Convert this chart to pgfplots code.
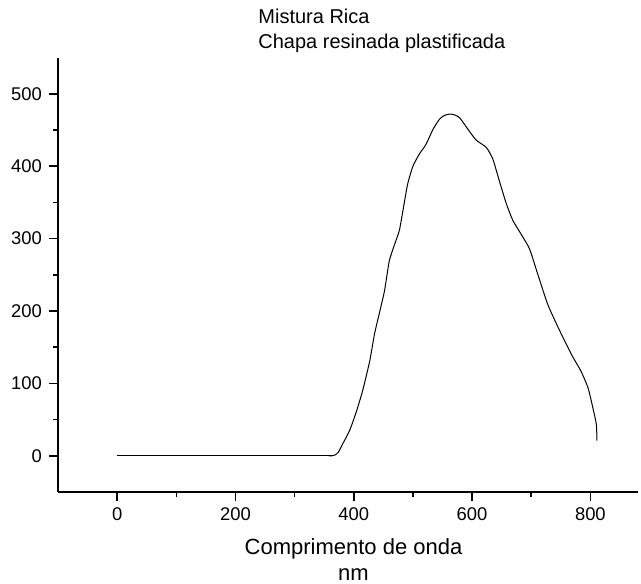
\documentclass[border=0pt]{standalone}
\usepackage{fontspec}
\setmainfont{Liberation Sans}
\usepackage{pgfplots}
\pgfplotsset{compat=1.18}

\begin{document}
\begin{tikzpicture}
  \begin{axis}[
      scale only axis,
      width=289.85pt,
      height=217.2pt,
      xmin=-100, xmax=880,
      ymin=-50, ymax=550,
      axis x line=bottom,
      axis y line=left,
      axis line style={-, line width=0.75pt},
      tick align=outside,
      tick style={black, line width=0.75pt},
      major tick length=4.5pt,
      minor tick length=2.5pt,
      xtick={0,200,400,600,800},
      ytick={0,100,200,300,400,500},
      minor x tick num=1,
      minor y tick num=1,
      ticklabel style={font=\fontsize{9.2}{11}\selectfont},
      /pgf/number format/assume math mode=true,
      clip=false,
    ]
    % flat baseline
    \addplot[black, line width=0.5pt] coordinates {(0,0) (363,0)};
    % emission band
    \addplot[black, line width=0.5pt, smooth, tension=0.35] coordinates {
        (358,0) (363,0) (368,1) (374,5) (381,16) (393,35) (404,60) (415,90)
        (427,131) (435,168) (443,196) (452,228) (460,269) (469,292)
        (477,311) (483,338) (491,375) (500,400) (511,417) (522,430)
        (534,451) (545,465) (553,470) (562,472) (570,471) (579,467)
        (593,451) (607,436) (624,426) (635,410) (646,380) (658,348)
        (669,325) (683,306) (697,286) (711,251) (728,209) (748,173)
        (768,140) (784,117) (796,94) (804,67) (810,44) (811,25) (811,21)
      };
  \end{axis}
  \node[anchor=base west, inner sep=0, font=\fontsize{10}{12}\selectfont]
    at ([shift={(100pt,234pt)}]current axis.south west) {Mistura Rica};
  \node[anchor=base west, inner sep=0, font=\fontsize{10}{12}\selectfont]
    at ([shift={(100pt,221.75pt)}]current axis.south west) {Chapa resinada plastificada};
  \node[anchor=base, inner sep=0, font=\fontsize{11}{13}\selectfont]
    at ([shift={(147.75pt,-31pt)}]current axis.south west) {Comprimento de onda};
  \node[anchor=base, inner sep=0, font=\fontsize{11}{13}\selectfont]
    at ([shift={(147.75pt,-44pt)}]current axis.south west) {nm};
  \pgfresetboundingbox
  \path[use as bounding box] ([shift={(-29pt,-45.5pt)}]current axis.south west)
    rectangle ([shift={(291.5pt,246pt)}]current axis.south west);
\end{tikzpicture}
\end{document}
